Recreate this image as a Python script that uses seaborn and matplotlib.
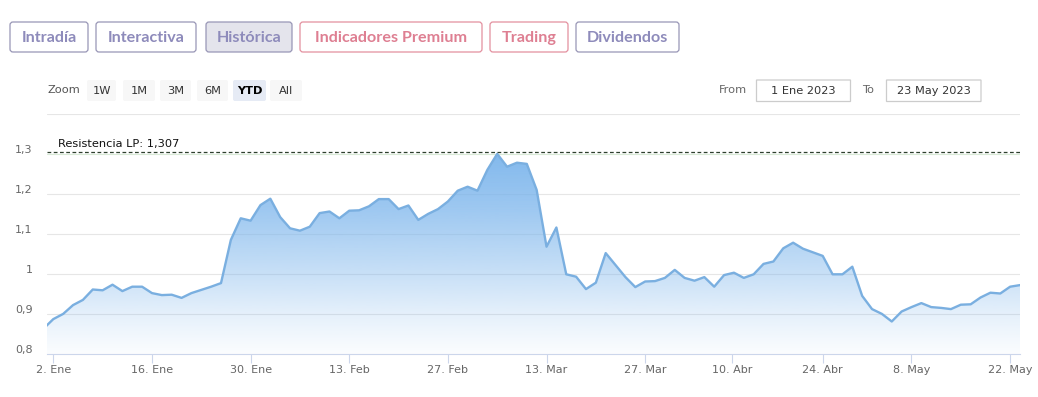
import numpy as np
import pandas as pd
import seaborn as sns
import matplotlib.pyplot as plt
from matplotlib.patches import FancyBboxPatch
from matplotlib.transforms import ScaledTranslation

sns.set_theme(style='white')
plt.rcParams['font.family'] = ['DejaVu Sans']

# trading days on the chart (30 Dic 2022 .. 23 May 2023), BME holidays removed
holidays = ['2023-04-07', '2023-04-10', '2023-05-01']
dates = pd.bdate_range('2022-12-30', '2023-05-23').drop(pd.to_datetime(holidays))

# daily close
close = [0.864, 0.888, 0.901, 0.923, 0.936, 0.962, 0.960, 0.974, 0.958, 0.969,
         0.969, 0.953, 0.948, 0.949, 0.941, 0.953, 0.961, 0.969, 0.978, 1.086,
         1.140, 1.134, 1.173, 1.189, 1.143, 1.115, 1.109, 1.119, 1.153, 1.157,
         1.140, 1.159, 1.160, 1.170, 1.188, 1.188, 1.163, 1.172, 1.136, 1.151,
         1.163, 1.182, 1.209, 1.219, 1.209, 1.261, 1.301, 1.269, 1.279, 1.276,
         1.211, 1.069, 1.117, 1.000, 0.994, 0.963, 0.979, 1.053, 1.023, 0.993,
         0.968, 0.982, 0.983, 0.991, 1.011, 0.991, 0.984, 0.993, 0.969, 0.998,
         1.004, 0.991, 1.000, 1.026, 1.032, 1.065, 1.079, 1.064, 1.055, 1.046,
         1.000, 1.000, 1.019, 0.946, 0.913, 0.901, 0.882, 0.907, 0.918, 0.928,
         0.918, 0.916, 0.913, 0.924, 0.925, 0.942, 0.954, 0.952, 0.969, 0.973]

resistance = 1.307
resistance_label = 'Resistencia LP: 1,307'

tick_dates = ['2023-01-02', '2023-01-16', '2023-01-30', '2023-02-13', '2023-02-27',
              '2023-03-13', '2023-03-27', '2023-04-10', '2023-04-24', '2023-05-08',
              '2023-05-22']
tick_labels = ['2. Ene', '16. Ene', '30. Ene', '13. Feb', '27. Feb', '13. Mar',
               '27. Mar', '10. Abr', '24. Abr', '8. May', '22. May']
y_ticks = [0.8, 0.9, 1.0, 1.1, 1.2, 1.3, 1.4]

tabs = ['Intradía', 'Interactiva', 'Histórica', 'Indicadores Premium', 'Trading', 'Dividendos']
zoom_buttons = ['1W', '1M', '3M', '6M', 'YTD', 'All']
date_from, date_to = '1 Ene 2023', '23 May 2023'

df = pd.DataFrame({'date': dates, 'close': close})
df['pos'] = np.arange(len(df))  # ordinal x axis like highstock

W, H = 1038, 397
fig = plt.figure(figsize=(W / 100, H / 100), dpi=100)
ax = fig.add_axes([47.3 / W, 1 - 354.3 / H, (1020 - 47.3) / W, (354.3 - 114.3) / H])

x_lo, x_hi = 0.39, df['pos'].iloc[-1]
ax.set_xlim(x_lo, x_hi)
ax.set_ylim(0.8, 1.4)

# gradient area under the line
poly = ax.fill_between(df['pos'], df['close'], 0.8, facecolor='none', edgecolor='none')
yy = np.linspace(0.8, 1.4, 300)
alpha = np.interp(yy, [0.8, 0.9, 1.0, 1.17, 1.3], [0.03, 0.2, 0.42, 0.76, 0.95])
grad = np.zeros((300, 1, 4))
grad[:, 0, :3] = np.array([124, 181, 236]) / 255
grad[:, 0, 3] = alpha
im = ax.imshow(grad, extent=[x_lo, x_hi, 0.8, 1.4], origin='lower', aspect='auto', zorder=1)
im.set_clip_path(poly.get_paths()[0], transform=ax.transData)

sns.lineplot(data=df, x='pos', y='close', ax=ax, color='#7aafe0', linewidth=1.7, zorder=3)

# grid
for v in y_ticks[1:]:
    ax.axhline(v, color='#d8ead6' if v == 1.3 else '#e6e6e6', lw=0.8, zorder=0)
ax.axhline(resistance, color='#2d3f2d', lw=0.9, ls=(0, (3, 2)), zorder=4)
ax.text(1.5, resistance + 0.005, resistance_label, fontsize=8.2, color='#111111',
        ha='left', va='bottom', zorder=5)

for s in ['top', 'right', 'left']:
    ax.spines[s].set_visible(False)
ax.spines['bottom'].set_color('#ccd6eb')
ax.spines['bottom'].set_linewidth(0.8)

tick_pos = np.interp(pd.to_datetime(tick_dates).asi8, df['date'].values.astype('int64'), df['pos'])
ax.set_xticks(tick_pos)
ax.set_xticklabels(tick_labels)
ax.tick_params(axis='x', direction='out', length=6.5, width=0.8, color='#ccd6eb',
               pad=1.5, labelsize=8, labelcolor='#666666', bottom=True)
ax.set_yticks(y_ticks)
ax.set_yticklabels(['' if v > 1.35 else f'{v:g}'.replace('.', ',') for v in y_ticks])
ax.tick_params(axis='y', length=0, pad=10.5, labelsize=8, labelcolor='#666666')
for lbl in ax.get_yticklabels():
    lbl.set_transform(lbl.get_transform() + ScaledTranslation(0, 0.05, fig.dpi_scale_trans))
ax.set_xlabel('')
ax.set_ylabel('')
ax.grid(False)

# header widgets (pixel positions from the top-left corner)
def box(x0, y0, x1, y1, fc, ec, r=0.03):
    p = FancyBboxPatch((x0 / 100, (H - y1) / 100), (x1 - x0) / 100, (y1 - y0) / 100,
                       boxstyle=f'round,pad=0,rounding_size={r}', transform=fig.dpi_scale_trans,
                       facecolor=fc, edgecolor=ec, linewidth=0.9)
    fig.patches.append(p)

def label(x, y, s, **kw):
    fig.text(x / W, 1 - y / H, s, **kw)

purple, pink = '#8e8bbb', '#de7f92'
tab_edges = [(10, 88), (96, 196), (206, 292), (300, 482), (490, 568), (576, 679)]
tab_colors = [purple, purple, purple, pink, pink, purple]
for name, (x0, x1), c in zip(tabs, tab_edges, tab_colors):
    fc = '#e4e4ec' if name == 'Histórica' else 'white'
    ec = '#9896b6' if c == purple else '#e3909f'
    box(x0, 22, x1, 52, fc, ec)
    label((x0 + x1) / 2, 42, name, ha='center', va='baseline', fontsize=11.6,
          color=c, family=['Lato', 'DejaVu Sans'], fontweight='bold')

label(48, 90, 'Zoom', ha='left', va='center', fontsize=8.2, color='#555555')
zb_edges = [(87, 116), (123, 155), (160, 191), (197, 228), (233, 266), (270, 302)]
for name, (x0, x1) in zip(zoom_buttons, zb_edges):
    sel = name == 'YTD'
    box(x0, 80, x1, 101, '#e6ebf5' if sel else '#f7f7f7', 'none', r=0.02)
    label((x0 + x1) / 2, 90.5, name, ha='center', va='center', fontsize=8.2,
          color='#000000' if sel else '#333333', fontweight='bold' if sel else 'normal')

label(719, 90, 'From', ha='left', va='center', fontsize=8.2, color='#666666')
box(756.5, 80, 850.5, 101.5, 'white', '#cccccc', r=0.0)
label(803.5, 90.5, date_from, ha='center', va='center', fontsize=8.2, color='#333333')
label(862, 90, 'To', ha='left', va='center', fontsize=8.2, color='#666666')
box(886.5, 80, 981, 101.5, 'white', '#cccccc', r=0.0)
label(933.7, 90.5, date_to, ha='center', va='center', fontsize=8.2, color='#333333')

fig.savefig('out.png', dpi=100, facecolor='white')
